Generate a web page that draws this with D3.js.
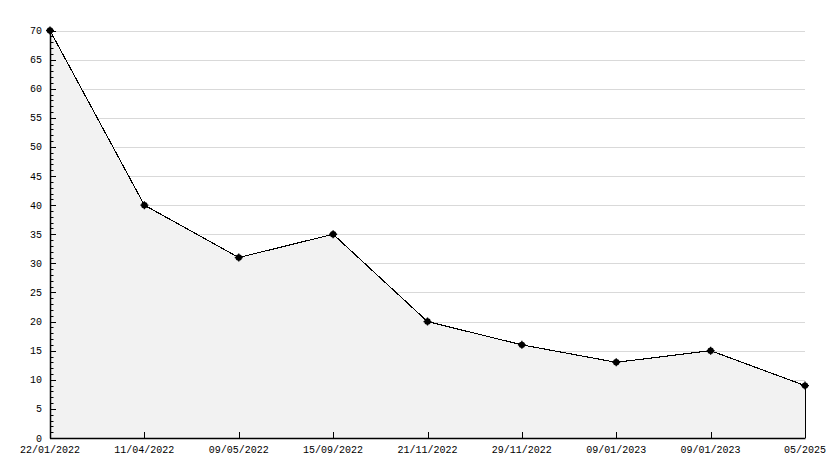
<!DOCTYPE html>
<html><head><meta charset="utf-8">
<script src="https://cdn.jsdelivr.net/npm/d3@7/dist/d3.min.js"></script>
<style>body{margin:0;background:#fff}svg{display:block}</style>
</head><body>
<script>
const categories = ["22/01/2022","11/04/2022","09/05/2022","15/09/2022","21/11/2022","29/11/2022","09/01/2023","09/01/2023","05/2025"];
const values = [70, 40, 31, 35, 20, 16, 13, 15, 9];
const yMajorTicks = [0,5,10,15,20,25,30,35,40,45,50,55,60,65,70];

const W = 834, H = 468;
const m = {left: 50, right: 29, top: 30, bottom: 30};
const svg = d3.select("body").append("svg").attr("width", W).attr("height", H);

const idx = categories.map((d,i)=>i);
const x = d3.scalePoint().domain(idx).range([m.left, W - m.right]);
const y = d3.scaleLinear().domain([0, 70]).range([H - m.bottom, m.top + 0.5]);

const font = "'Liberation Mono', 'DejaVu Sans Mono', monospace";

// gridlines
svg.append("g").selectAll("line").data(yMajorTicks.filter(v=>v>0)).join("line")
  .attr("x1", m.left).attr("x2", W - m.right)
  .attr("y1", d=>Math.round(y(d))+0.5).attr("y2", d=>Math.round(y(d))+0.5)
  .attr("stroke", "#d9d9d9").attr("stroke-width", 1);

// area
const area = d3.area().x((d,i)=>x(i)).y0(y(0)).y1(d=>y(d));
svg.append("path").datum(values).attr("d", area).attr("fill", "#f2f2f2");

// right closing edge
svg.append("line").attr("x1", x(values.length-1)+0.5).attr("x2", x(values.length-1)+0.5)
  .attr("y1", y(values[values.length-1])).attr("y2", y(0))
  .attr("stroke", "#000").attr("stroke-width", 1);

// line
const line = d3.line().x((d,i)=>x(i)).y(d=>y(d));
svg.append("path").datum(values).attr("d", line).attr("fill", "none")
  .attr("stroke", "#000").attr("stroke-width", 1.1).attr("shape-rendering", "crispEdges");

// y axis
const yAxis = svg.append("g");
yAxis.append("line").attr("x1", m.left+0.5).attr("x2", m.left+0.5)
  .attr("y1", y(70)).attr("y2", y(0)+0.5).attr("stroke", "#000").attr("stroke-width", 1.5);
const minor = d3.range(0, 71, 1);
yAxis.selectAll("line.t").data(minor).join("line").attr("class","t")
  .attr("x1", m.left).attr("x2", d => d % 5 === 0 ? m.left + 6 : m.left + 3.5)
  .attr("y1", d=>Math.round(y(d))+0.5).attr("y2", d=>Math.round(y(d))+0.5)
  .attr("stroke", "#000").attr("stroke-width", 1);
yAxis.selectAll("text").data(yMajorTicks).join("text")
  .attr("x", m.left - 8).attr("y", d=>y(d)).attr("dy", "0.35em")
  .attr("text-anchor", "end").attr("font-family", font).attr("font-size", 10)
  .attr("fill", "#000").text(d=>d);

// x axis
const xAxis = svg.append("g");
xAxis.append("line").attr("x1", m.left).attr("x2", W - m.right + 0.5)
  .attr("y1", y(0)+0.5).attr("y2", y(0)+0.5).attr("stroke", "#000").attr("stroke-width", 1.5);
xAxis.selectAll("line.t").data(idx).join("line").attr("class","t")
  .attr("x1", d=>Math.round(x(d))+0.5).attr("x2", d=>Math.round(x(d))+0.5)
  .attr("y1", y(0)-6).attr("y2", y(0)).attr("stroke", "#000");
xAxis.selectAll("text").data(idx).join("text")
  .attr("x", d=>x(d)).attr("y", y(0) + 15)
  .attr("text-anchor", "middle").attr("font-family", font).attr("font-size", 10)
  .attr("fill", "#000").text(d=>categories[d]);

// markers
const mk = svg.append("g").selectAll("g").data(values).join("g")
  .attr("transform", (d,i)=>`translate(${x(i)},${y(d)})`);
mk.append("circle").attr("r", 3.2).attr("fill", "#000");
mk.append("path").attr("d", "M-4,0H4M0,-4V4").attr("stroke", "#000").attr("stroke-width", 1.3);
</script>
</body></html>
